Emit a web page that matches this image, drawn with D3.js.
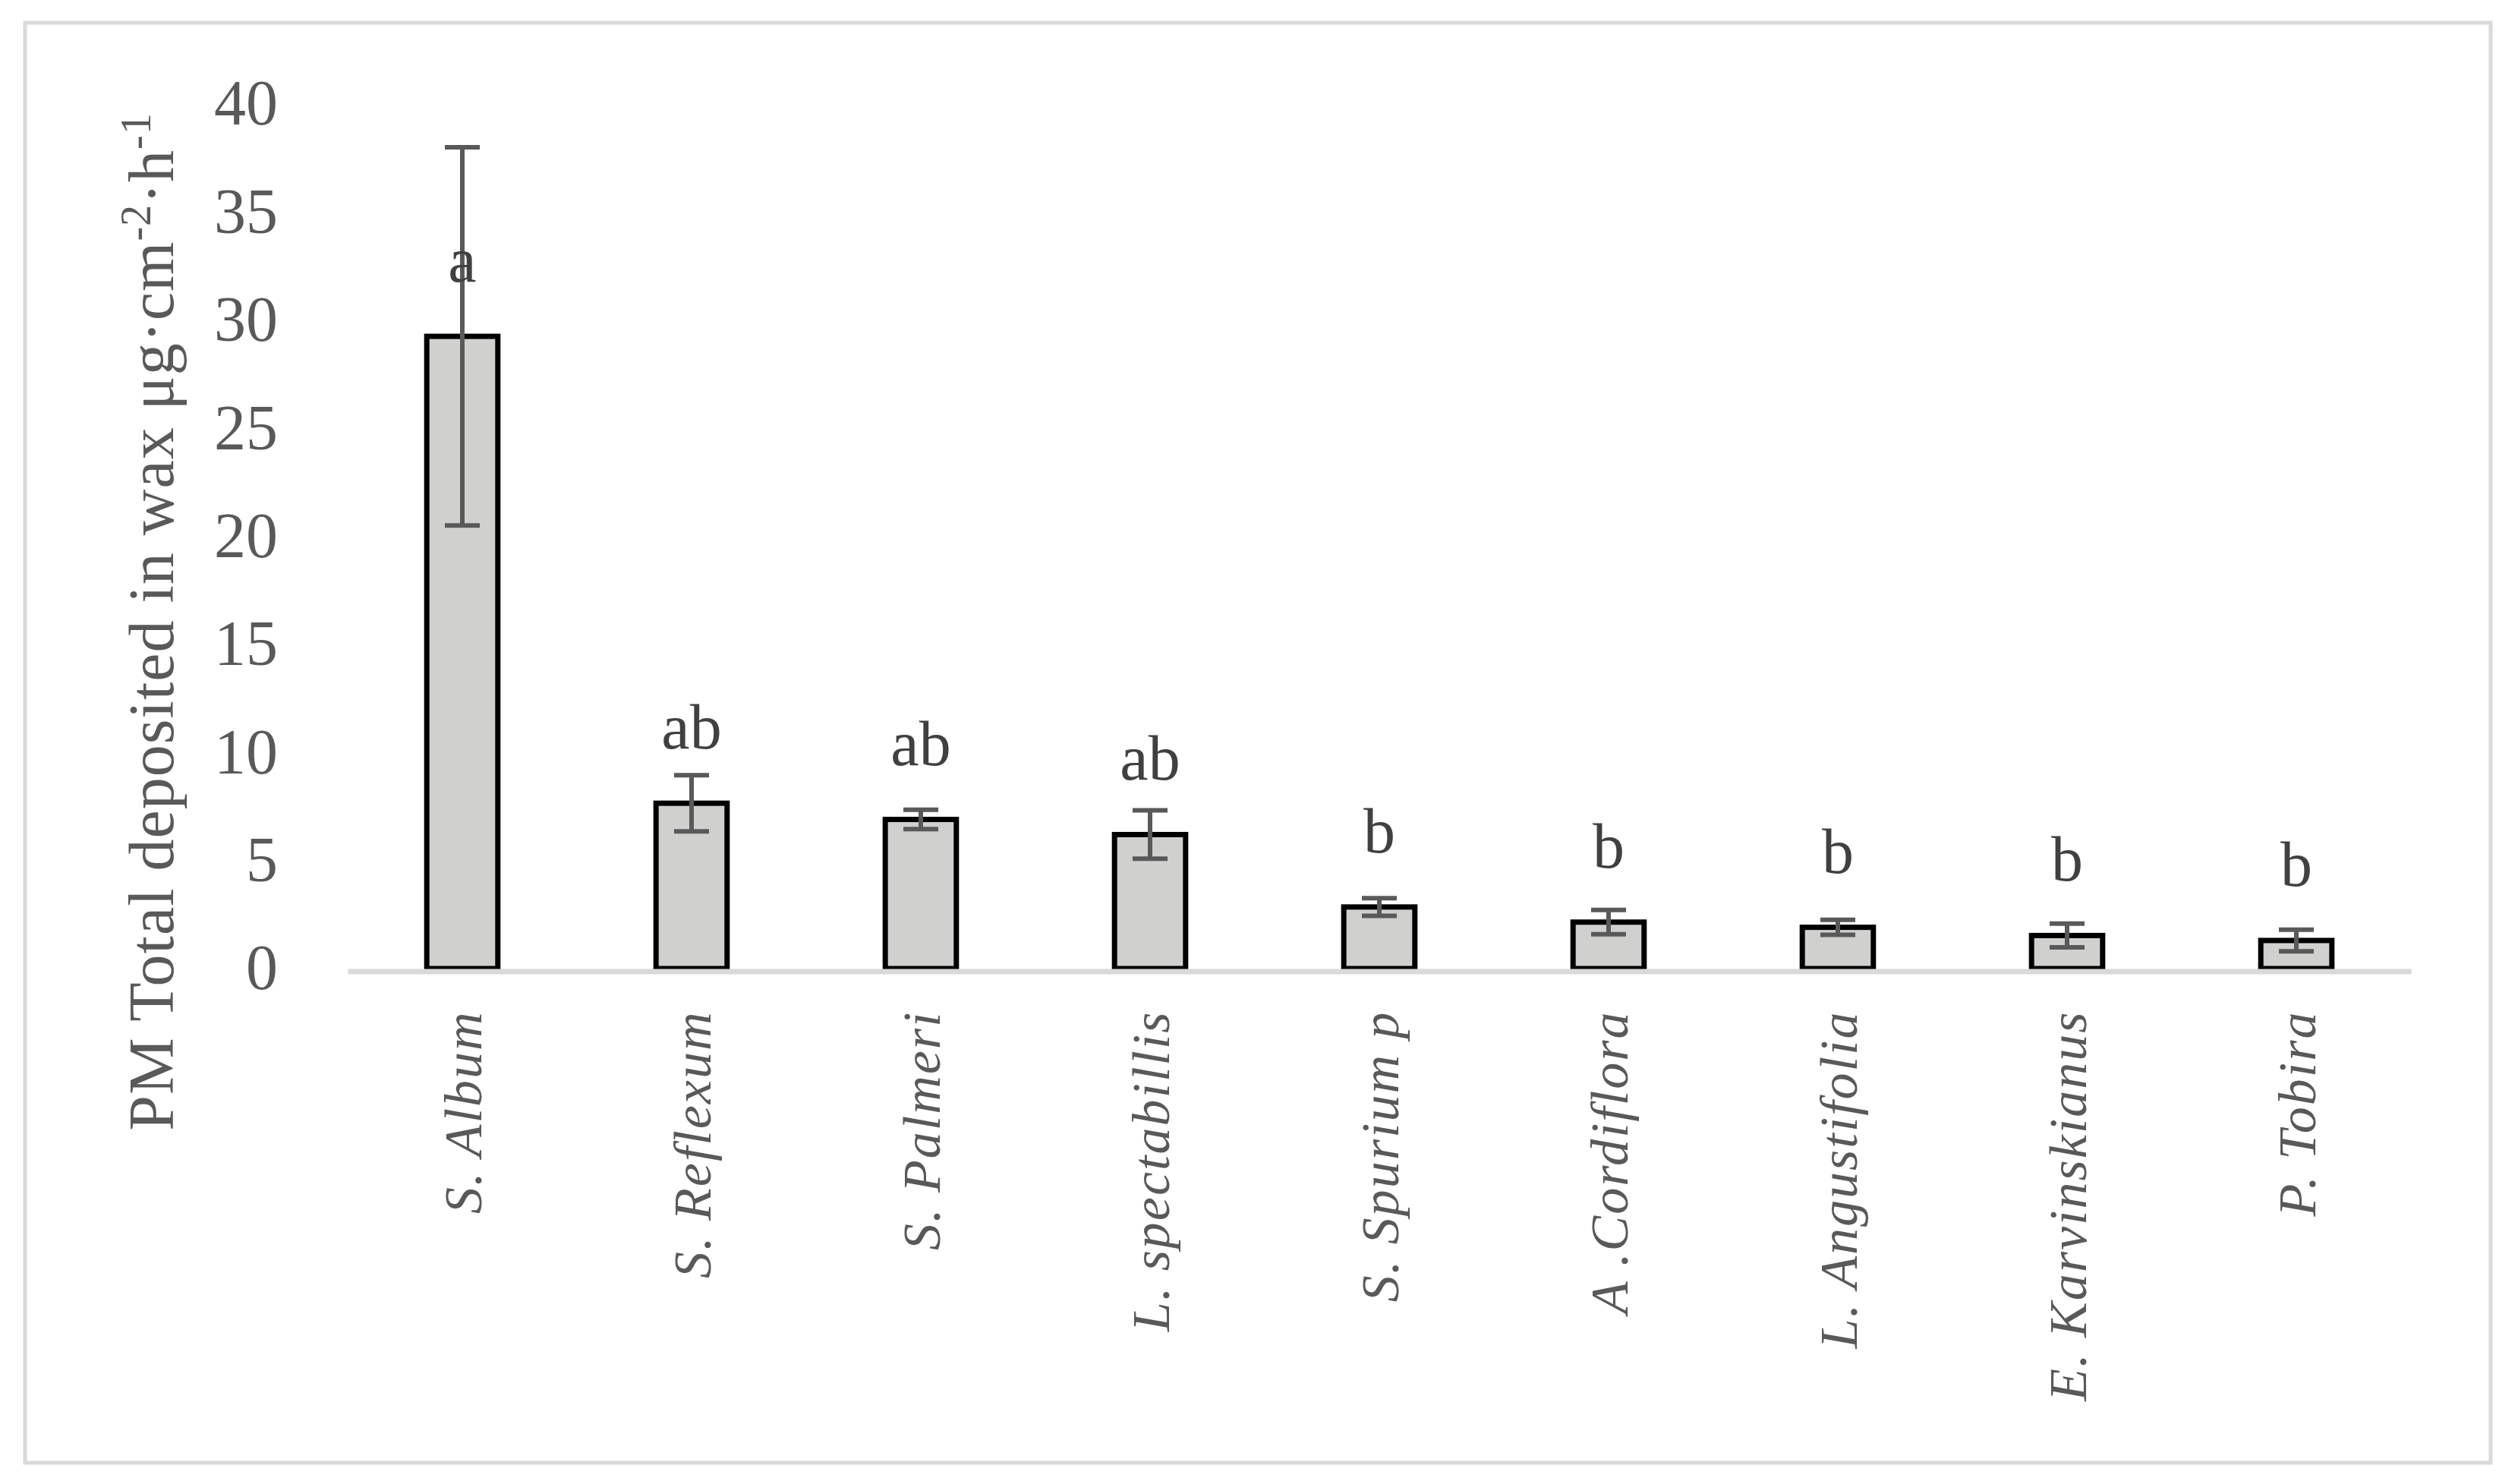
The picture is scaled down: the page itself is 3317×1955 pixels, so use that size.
<!DOCTYPE html>
<html>
<head>
<meta charset="utf-8">
<script src="https://cdn.jsdelivr.net/npm/d3@7"></script>
<style>
  body { margin: 0; background: #fff; }
  svg { display: block; }
</style>
</head>
<body>
<svg id="chart"></svg>
<script>
const width = 3317, height = 1955;

// data
const species = ["S. Album", "S. Reflexum", "S. Palmeri", "L. spectabillis", "S. Spurium p",
                 "A .Cordiflora", "L. Angustifolia", "E. Karvinskianus", "P. Tobira"];
const means = [29.25, 7.65, 6.9, 6.2, 2.85, 2.15, 1.91, 1.53, 1.3];
const errors = [8.75, 1.3, 0.45, 1.12, 0.41, 0.56, 0.35, 0.55, 0.5];
const letters = ["a", "ab", "ab", "ab", "b", "b", "b", "b", "b"];
const yTicks = [0, 5, 10, 15, 20, 25, 30, 35, 40];

const serif = "'Liberation Serif', 'DejaVu Serif', serif";
const grey = "#595959";

const svg = d3.select("#chart").attr("width", width).attr("height", height);

// outer frame
svg.append("rect")
    .attr("x", 33).attr("y", 30)
    .attr("width", 3248).attr("height", 1897)
    .attr("fill", "#fff")
    .attr("stroke", "#d9d9d9")
    .attr("stroke-width", 5);

const x = d3.scaleBand().domain(species).range([458, 3176]).paddingInner(0.69).paddingOuter(0.345);
const y = d3.scaleLinear().domain([0, 40]).range([1276, 137]);

// y axis (labels only)
const yAxis = svg.append("g")
    .attr("transform", "translate(366,0)")
    .call(d3.axisLeft(y).tickValues(yTicks).tickSize(0).tickPadding(0));
yAxis.select(".domain").remove();
yAxis.selectAll("text")
    .attr("font-family", serif)
    .attr("font-size", 84)
    .attr("fill", grey);

// y axis title
const title = svg.append("text")
    .attr("transform", "translate(228,819) rotate(-90)")
    .attr("text-anchor", "middle")
    .attr("font-family", serif)
    .attr("font-size", 84)
    .attr("letter-spacing", 1)
    .attr("fill", grey);
title.append("tspan").text("PM Total deposited in wax \u03bcg\u00b7cm");
title.append("tspan").attr("dy", -30).attr("font-size", 56).text("-2");
title.append("tspan").attr("dy", 30).text("\u00b7h");
title.append("tspan").attr("dy", -30).attr("font-size", 56).text("-1");

// bars
svg.selectAll(".bar")
    .data(species)
    .enter()
    .append("rect")
    .attr("class", "bar")
    .attr("x", d => x(d))
    .attr("y", (d, i) => y(means[i]))
    .attr("width", x.bandwidth())
    .attr("height", (d, i) => y(0) - y(means[i]))
    .attr("fill", "#d0d0ce")
    .attr("stroke", "#000")
    .attr("stroke-width", 7);

// x axis
const xAxis = svg.append("g")
    .attr("transform", "translate(0,1279.5)")
    .call(d3.axisBottom(x).tickSize(0).tickSizeOuter(0).tickPadding(0));
xAxis.select(".domain").attr("stroke", "#d9d9d9").attr("stroke-width", 7);
xAxis.selectAll("text")
    .attr("font-family", serif)
    .attr("font-style", "italic")
    .attr("font-size", 70)
    .attr("letter-spacing", 2)
    .attr("fill", grey)
    .attr("text-anchor", "end")
    .attr("transform", "translate(0,52) rotate(-90)")
    .attr("dy", "0.35em")
    .attr("y", 0);

// error bars
const capHalf = 23;
const errG = svg.append("g").attr("stroke", grey).attr("stroke-width", 6);
species.forEach(function(s, i) {
    const cx = x(s) + x.bandwidth() / 2;
    const top = y(means[i] + errors[i]);
    const bottom = y(means[i] - errors[i]);
    errG.append("line").attr("x1", cx).attr("x2", cx).attr("y1", top).attr("y2", bottom);
    errG.append("line").attr("x1", cx - capHalf).attr("x2", cx + capHalf).attr("y1", top).attr("y2", top);
    errG.append("line").attr("x1", cx - capHalf).attr("x2", cx + capHalf).attr("y1", bottom).attr("y2", bottom);
});

// significance letters, sitting a fixed distance above each bar top
svg.selectAll(".letter")
    .data(species)
    .enter()
    .append("text")
    .attr("class", "letter")
    .attr("x", d => x(d) + x.bandwidth() / 2)
    .attr("y", (d, i) => y(means[i]) - 72)
    .attr("text-anchor", "middle")
    .attr("font-family", serif)
    .attr("font-size", 84)
    .attr("fill", "#404040")
    .text((d, i) => letters[i]);
</script>
</body>
</html>
